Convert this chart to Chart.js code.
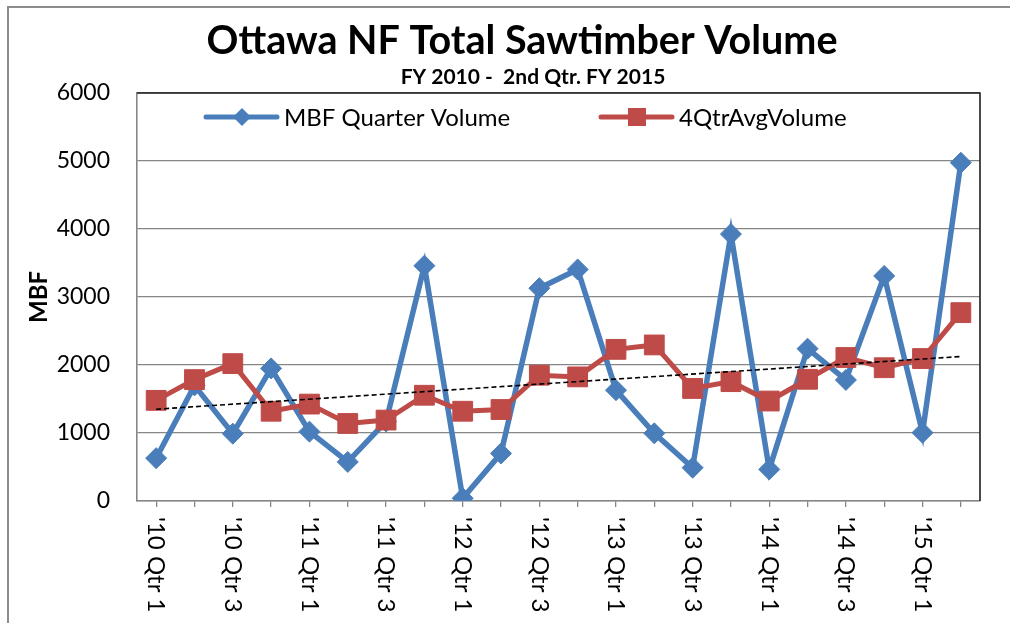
<!DOCTYPE html>
<html>
<head>
<meta charset="utf-8">
<title>Ottawa NF Total Sawtimber Volume</title>
<script src="https://cdn.jsdelivr.net/npm/chart.js@4.4.0/dist/chart.umd.min.js"></script>
<style>
  html, body { margin: 0; padding: 0; background: #fff; }
  #chartBox { width: 1010px; height: 623px; }
</style>
</head>
<body>
<div id="chartBox"><canvas id="volumeChart" width="1010" height="623"></canvas></div>
<script>
// data
const titleText = "Ottawa NF Total Sawtimber Volume";
const subtitleText = "FY 2010 -  2nd Qtr. FY 2015";
const yTitle = "MBF";
const seriesNames = ["MBF Quarter Volume", "4QtrAvgVolume"];

const categories = [
    "'10 Qtr 1", "'10 Qtr 2", "'10 Qtr 3", "'10 Qtr 4",
    "'11 Qtr 1", "'11 Qtr 2", "'11 Qtr 3", "'11 Qtr 4",
    "'12 Qtr 1", "'12 Qtr 2", "'12 Qtr 3", "'12 Qtr 4",
    "'13 Qtr 1", "'13 Qtr 2", "'13 Qtr 3", "'13 Qtr 4",
    "'14 Qtr 1", "'14 Qtr 2", "'14 Qtr 3", "'14 Qtr 4",
    "'15 Qtr 1", "'15 Qtr 2"
];
const quarterVolume = [630, 1700, 990, 1950, 1020, 575, 1170, 3460, 40, 700, 3130,
                       3405, 1630, 995, 490, 3925, 465, 2240, 1780, 3310, 1005, 4975];
const avgVolume = [1480, 1785, 2020, 1320, 1425, 1140, 1190, 1555, 1320, 1345, 1850,
                   1825, 2230, 2295, 1655, 1755, 1470, 1790, 2110, 1960, 2095, 2770];
const trendEnds = [1350, 2125];   // linear trend of the 4 qtr average, first and last quarter
const yRange = [0, 6000];
const yStep = 1000;

const blue = "#4a7ebb";
const red = "#be4b48";
const gridGray = "#868686";
const fontFamily = "Lato, 'Open Sans', sans-serif";

// trend line only has its two ends, spanGaps joins them
const trendData = categories.map((c, i) => {
    if (i === 0) return trendEnds[0];
    if (i === categories.length - 1) return trendEnds[1];
    return null;
});

function drawMarker(ctx, style, cx, cy, half, color) {
    ctx.fillStyle = color;
    ctx.beginPath();
    if (style === "rectRot") {
        ctx.moveTo(cx, cy - half);
        ctx.lineTo(cx + half, cy);
        ctx.lineTo(cx, cy + half);
        ctx.lineTo(cx - half, cy);
        ctx.closePath();
    } else {
        ctx.rect(cx - half, cy - half, half * 2, half * 2);
    }
    ctx.fill();
}

// titles, legend, rotated category labels and frame, drawn the Excel way
const decorPlugin = {
    id: "decor",
    afterDraw(chart) {
        const ctx = chart.ctx;
        const area = chart.chartArea;
        const xScale = chart.scales.x;
        ctx.save();

        // outer chart frame (runs off the right / bottom edge)
        ctx.strokeStyle = "#8c8c8c";
        ctx.lineWidth = 2;
        ctx.strokeRect(8, 7, 1200, 1200);

        // plot area border, top and right
        ctx.strokeStyle = "#1e1e1e";
        ctx.lineWidth = 1.6;
        ctx.beginPath();
        ctx.moveTo(area.left, area.top);
        ctx.lineTo(area.right, area.top);
        ctx.lineTo(area.right, area.bottom);
        ctx.stroke();

        // titles
        ctx.fillStyle = "#000";
        ctx.textAlign = "center";
        ctx.textBaseline = "alphabetic";
        ctx.font = "bold 39.5px " + fontFamily;
        ctx.fillText(titleText, 522, 54);
        ctx.font = "bold 21px " + fontFamily;
        ctx.fillText(subtitleText, 533, 84);

        // category labels, rotated clockwise, every second quarter
        ctx.font = "24px " + fontFamily;
        ctx.textAlign = "left";
        ctx.textBaseline = "middle";
        categories.forEach((label, i) => {
            if (i % 2 !== 0) return;
            const px = xScale.getPixelForValue(i);
            ctx.save();
            ctx.translate(px, area.bottom + 16);
            ctx.rotate(Math.PI / 2);
            ctx.fillText(label, 0, 0);
            ctx.restore();
        });

        // legend inside the plot area
        const legendY = area.top + 24;
        const items = [
            { x: 206, color: blue, style: "rectRot", half: 9 },
            { x: 601, color: red, style: "rect", half: 9 }
        ];
        items.forEach((it, i) => {
            ctx.strokeStyle = it.color;
            ctx.lineWidth = 5;
            ctx.lineCap = "round";
            ctx.beginPath();
            ctx.moveTo(it.x, legendY);
            ctx.lineTo(it.x + 71, legendY);
            ctx.stroke();
            drawMarker(ctx, it.style, it.x + 36, legendY, it.half, it.color);
            ctx.fillStyle = "#000";
            ctx.font = "24px " + fontFamily;
            ctx.textAlign = "left";
            ctx.textBaseline = "middle";
            ctx.fillText(seriesNames[i], it.x + 78, legendY + 1);
        });

        ctx.restore();
    }
};

const ctx = document.getElementById("volumeChart").getContext("2d");
const volumeChart = new Chart(ctx, {
    type: "line",
    data: {
        labels: categories,
        datasets: [
            {
                label: "Linear (4QtrAvgVolume)",
                data: trendData,
                spanGaps: true,
                borderColor: "#000",
                borderWidth: 1.6,
                borderDash: [5, 3],
                pointRadius: 0,
                fill: false,
                order: 0
            },
            {
                label: seriesNames[1],
                data: avgVolume,
                borderColor: red,
                backgroundColor: red,
                borderWidth: 5,
                pointStyle: "rect",
                pointRadius: 14,
                pointBorderWidth: 1,
                pointBorderColor: red,
                pointBackgroundColor: red,
                tension: 0,
                order: 1
            },
            {
                label: seriesNames[0],
                data: quarterVolume,
                borderColor: blue,
                backgroundColor: blue,
                borderWidth: 5.5,
                pointStyle: "rectRot",
                pointRadius: 10.5,
                pointBorderWidth: 1,
                pointBorderColor: blue,
                pointBackgroundColor: blue,
                tension: 0,
                order: 2
            }
        ]
    },
    options: {
        responsive: false,
        animation: false,
        devicePixelRatio: 1,
        layout: {
            padding: { top: 93, right: 30, bottom: 0, left: 0 }
        },
        plugins: {
            legend: { display: false },
            title: { display: false },
            tooltip: { enabled: false }
        },
        scales: {
            x: {
                type: "category",
                offset: true,
                grid: {
                    offset: false,
                    drawOnChartArea: false,
                    drawTicks: true,
                    tickLength: 6,
                    color: gridGray,
                    lineWidth: 1.3
                },
                border: { color: gridGray, width: 1.6 },
                ticks: { display: false },
                afterFit: (scale) => { scale.height = 122; }
            },
            y: {
                min: yRange[0],
                max: yRange[1],
                ticks: {
                    stepSize: yStep,
                    color: "#000",
                    padding: 27,
                    font: { family: fontFamily, size: 23 },
                    callback: (v) => String(v)
                },
                grid: {
                    color: gridGray,
                    lineWidth: 1.3,
                    drawTicks: false
                },
                border: { color: gridGray, width: 1.6 },
                title: {
                    display: true,
                    text: yTitle,
                    color: "#000",
                    padding: { top: 25, bottom: 0 },
                    font: { family: fontFamily, size: 24, weight: "bold" }
                },
                afterFit: (scale) => { scale.width = 137; }
            }
        }
    },
    plugins: [decorPlugin]
});
</script>
</body>
</html>
